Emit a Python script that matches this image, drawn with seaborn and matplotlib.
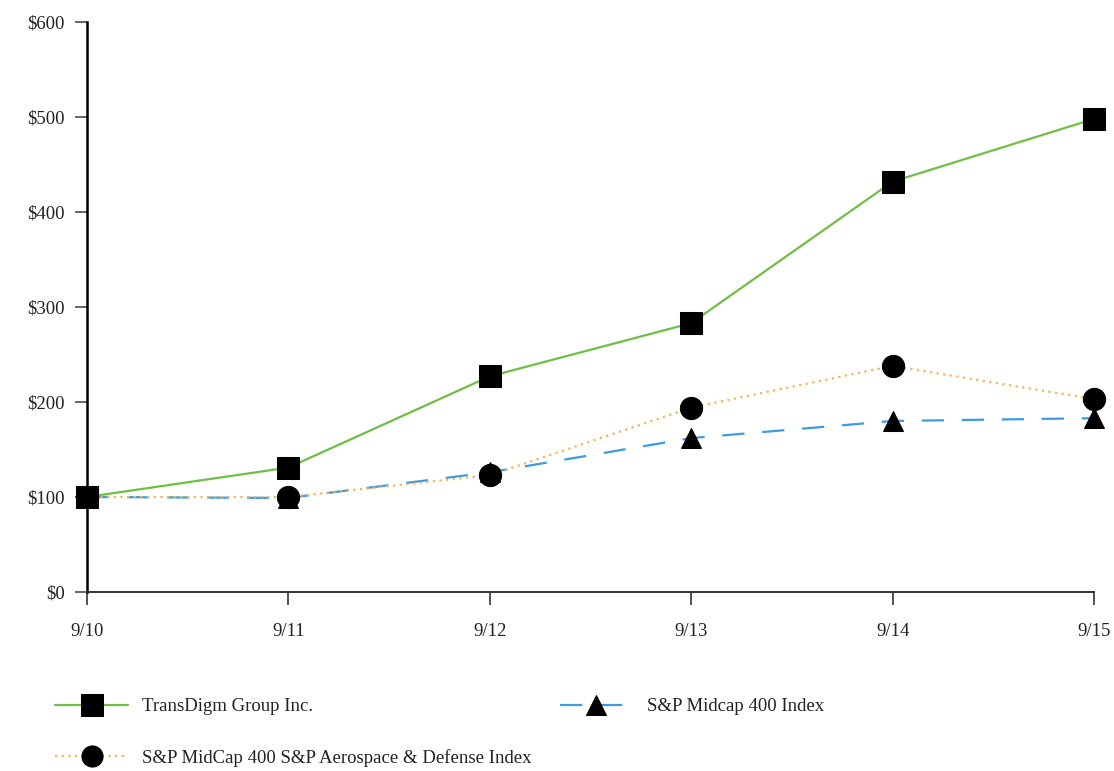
import matplotlib
matplotlib.use("Agg")
import matplotlib.pyplot as plt
import seaborn as sns
import pandas as pd

periods = ["9/10", "9/11", "9/12", "9/13", "9/14", "9/15"]
transdigm = [100, 131, 227, 283, 432, 498]
midcap = [100, 99, 126, 162, 180, 183]
aerospace = [100, 100, 123, 194, 238, 203]
y_ticks = [0, 100, 200, 300, 400, 500, 600]
y_labels = ["$0", "$100", "$200", "$300", "$400", "$500", "$600"]

sns.set_theme(style="white")
plt.rcParams["font.family"] = ["Liberation Serif", "DejaVu Serif"]

fig = plt.figure(figsize=(11.14, 7.71), dpi=100)
ax = fig.add_axes([87/1114, (771-592)/771, (1094-87)/1114, 570/771])

xi = list(range(len(periods)))
sns.lineplot(x=xi, y=midcap, ax=ax, color="#3d9be0", linewidth=1.6,
             marker="^", markersize=15, markerfacecolor="black",
             markeredgecolor="black", clip_on=False, zorder=3)
ax.lines[-1].set_dashes([10, 8])
l_mid = ax.lines[-1]
sns.lineplot(x=xi, y=aerospace, ax=ax, color="#f2b552", linewidth=1.6,
             marker="o", markersize=16, markerfacecolor="black",
             markeredgecolor="black", clip_on=False, zorder=4)
ax.lines[-1].set_linestyle((0, (1, 2)))
l_aer = ax.lines[-1]
sns.lineplot(x=xi, y=transdigm, ax=ax, color="#6fbf44", linewidth=1.6,
             marker="s", markersize=16, markerfacecolor="black",
             markeredgecolor="black", clip_on=False, zorder=5)
l_td = ax.lines[-1]

ax.set_xlim(0, 5)
ax.set_ylim(0, 600)
ax.set_xticks(xi)
ax.set_xticklabels(periods)
ax.set_yticks(y_ticks)
ax.set_yticklabels(y_labels)
for s in ["top", "right"]:
    ax.spines[s].set_visible(False)
ax.spines["left"].set_color("black")
ax.spines["left"].set_linewidth(1.8)
ax.spines["bottom"].set_color("#333333")
ax.spines["bottom"].set_linewidth(1.4)
ax.tick_params(axis="y", direction="out", length=9, width=1.4, color="#666666",
               pad=7, labelsize=13.5, labelcolor="#222222", left=True)
ax.tick_params(axis="x", direction="out", length=9, width=1.2, color="#333333",
               pad=13, labelsize=13.5, labelcolor="#222222", bottom=True)
ax.set_xlabel("")
ax.set_ylabel("")

leg = fig.legend([l_td, l_aer, l_mid],
                 ["TransDigm Group Inc.", "S&P MidCap 400 S&P Aerospace & Defense Index",
                  "S&P Midcap 400 Index"],
                 ncol=2, loc="upper left", bbox_to_anchor=(55/1114, 1 - 698/771),
                 frameon=False, fontsize=13.5, handlelength=3.9, handletextpad=0.75,
                 labelspacing=1.8, columnspacing=1.5, markerscale=0.95,
                 borderaxespad=0, borderpad=0)
for t in leg.get_texts():
    t.set_color("#222222")

fig.savefig("out.png", dpi=100)
